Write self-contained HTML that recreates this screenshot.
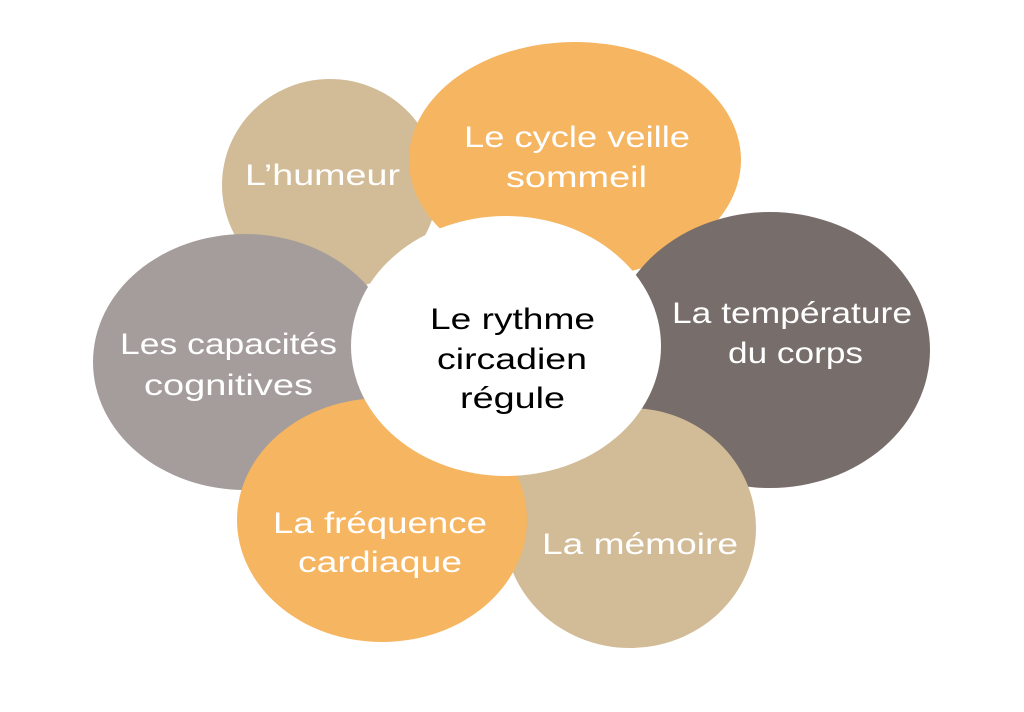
<!DOCTYPE html>
<html><head><meta charset="utf-8"><style>html,body{margin:0;padding:0;background:#fff}svg{display:block}text{font-family:"Liberation Sans",sans-serif;font-size:30px;fill:#fff}</style></head>
<body>
<svg width="1024" height="712" viewBox="0 0 1024 712" xmlns="http://www.w3.org/2000/svg">
<ellipse cx="330" cy="185" rx="108" ry="106" fill="#d2bc97"/>
<ellipse cx="575" cy="160" rx="166" ry="118" fill="#f5b561"/>
<ellipse cx="770" cy="350" rx="160" ry="138" fill="#776d6a"/>
<ellipse cx="245" cy="362" rx="152" ry="128" fill="#a49d9b"/>
<ellipse cx="630" cy="528" rx="126" ry="120" fill="#d2bc97"/>
<ellipse cx="382" cy="520" rx="145" ry="122" fill="#f5b561"/>
<ellipse cx="506" cy="346" rx="155" ry="130" fill="#ffffff"/>
<text x="245" y="185" textLength="155" lengthAdjust="spacingAndGlyphs">L’humeur</text>
<text x="464" y="147" textLength="226" lengthAdjust="spacingAndGlyphs">Le cycle veille</text>
<text x="506" y="187" textLength="141" lengthAdjust="spacingAndGlyphs">sommeil</text>
<text x="672" y="323" textLength="240" lengthAdjust="spacingAndGlyphs">La température</text>
<text x="728" y="363" textLength="135" lengthAdjust="spacingAndGlyphs">du corps</text>
<text x="120" y="354" textLength="217" lengthAdjust="spacingAndGlyphs">Les capacités</text>
<text x="144" y="395" textLength="169" lengthAdjust="spacingAndGlyphs">cognitives</text>
<text x="273" y="533" textLength="214" lengthAdjust="spacingAndGlyphs">La fréquence</text>
<text x="298" y="572" textLength="164" lengthAdjust="spacingAndGlyphs">cardiaque</text>
<text x="542" y="554" textLength="196" lengthAdjust="spacingAndGlyphs">La mémoire</text>
<text x="430" y="329" textLength="165" lengthAdjust="spacingAndGlyphs" style="fill:#000">Le rythme</text>
<text x="437" y="369" textLength="150" lengthAdjust="spacingAndGlyphs" style="fill:#000">circadien</text>
<text x="460" y="408" textLength="105" lengthAdjust="spacingAndGlyphs" style="fill:#000">régule</text>
</svg>
</body></html>
